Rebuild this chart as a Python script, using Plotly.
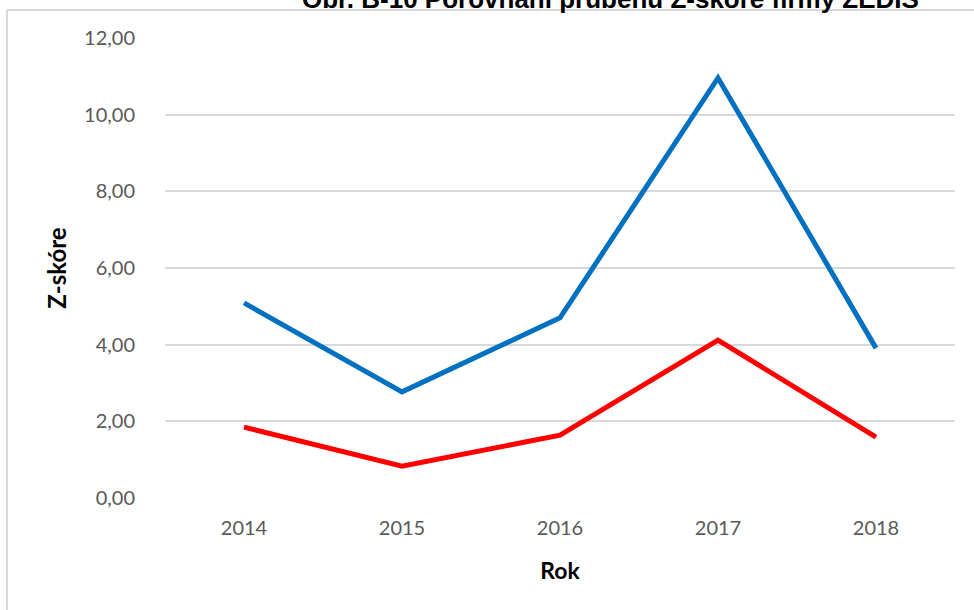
import plotly.graph_objects as go

years = ["2014", "2015", "2016", "2017", "2018"]
series_blue = [5.09, 2.77, 4.70, 10.96, 3.91]
series_red = [1.85, 0.83, 1.64, 4.12, 1.59]
y_ticks = [0, 2, 4, 6, 8, 10, 12]
y_tick_labels = ["0,00", "2,00", "4,00", "6,00", "8,00", "10,00", "12,00"]
title_text = "Obr. B-10 Porovnání průběhu Z-skóre firmy ZEDIS"

fig = go.Figure()
fig.add_trace(go.Scatter(x=years, y=series_blue, mode="lines",
                         line=dict(color="#0070C0", width=5), showlegend=False))
fig.add_trace(go.Scatter(x=years, y=series_red, mode="lines",
                         line=dict(color="#FF0000", width=5), showlegend=False))

W, H = 974, 610
L, R, T, B = 165, 19, 38, 112
ph = H - T - B

fig.update_layout(
    width=W, height=H,
    margin=dict(l=L, r=R, t=T, b=B, pad=0),
    paper_bgcolor="white", plot_bgcolor="white",
    font=dict(family="Lato", size=20, color="#595959"),
    xaxis=dict(type="category", range=[-0.5, 4.5], showgrid=False, zeroline=False,
               showline=False, ticks="", ticklabelstandoff=16,
               tickfont=dict(family="Lato", size=20, color="#595959"),
               title=dict(text="<b>Rok</b>", standoff=24,
                          font=dict(family="Lato", size=23, color="black"))),
    yaxis=dict(range=[0, 12], tickvals=y_ticks, ticktext=y_tick_labels,
               showgrid=True, gridcolor="#D9D9D9", gridwidth=2, zeroline=False,
               showline=False, ticks="", ticklabelstandoff=29,
               tickfont=dict(family="Lato", size=20, color="#595959"),
               title=dict(text="<b>Z-skóre</b>", standoff=10,
                          font=dict(family="Lato", size=24, color="black"))),
    shapes=[
        dict(type="line", xref="paper", yref="paper", x0=-(L - 7) / (W - L - R), x1=(W - L) / (W - L - R),
             y0=1 + (T - 10) / ph, y1=1 + (T - 10) / ph, line=dict(color="#D9D9D9", width=2)),
        dict(type="line", xref="paper", yref="paper", x0=-(L - 7) / (W - L - R), x1=-(L - 7) / (W - L - R),
             y0=1 + (T - 10) / ph, y1=-(B + 5) / ph, line=dict(color="#D9D9D9", width=2)),
    ],
    annotations=[
        dict(text="<b>" + title_text + "</b>", xref="paper", yref="paper",
             x=(610 - L) / (W - L - R), y=1 + (T - 16) / ph, xanchor="center", yanchor="bottom",
             showarrow=False, font=dict(family="Liberation Sans", size=26, color="black")),
    ],
)

fig.write_html("out.html")
